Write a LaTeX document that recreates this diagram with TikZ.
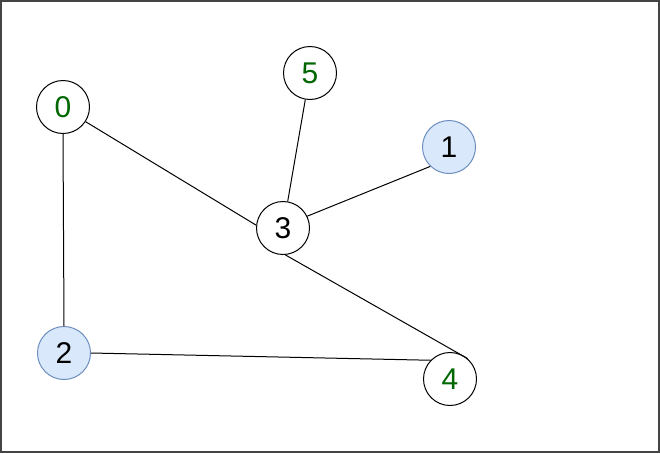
\documentclass[tikz,border=0pt]{standalone}
\usepackage{fontspec}
\setmainfont{Liberation Sans}
\definecolor{frame}{HTML}{444444}
\definecolor{blfill}{HTML}{DAE8FC}
\definecolor{bldraw}{HTML}{6C8EBF}
\definecolor{grn}{HTML}{006600}
\begin{document}
\begin{tikzpicture}[x=1pt,y=-1pt,
  vert/.style={circle,draw=black,fill=white,line width=1pt,minimum size=53pt,inner sep=0pt,font=\fontsize{30}{30}\selectfont},
  blue/.style={fill=blfill,draw=bldraw},
  gtext/.style={text=grn},
  edge/.style={line width=1pt}]
\useasboundingbox (0,0) rectangle (660,453);
\draw[frame,line width=2pt] (1,1) rectangle (659,452);
\node[vert,gtext] (n0) at (63,107) {0};
\node[vert,gtext] (n5) at (310,73) {5};
\node[vert,blue] (n1) at (449,147) {1};
\node[vert] (n3) at (283,228) {3};
\node[vert,blue] (n2) at (64,353) {2};
\node[vert,gtext] (n4) at (450,379) {4};
\draw[edge] (n0.-33) -- (n3.174);
\draw[edge] (n5.-100) -- (n3.80);
\draw[edge] (n1.-134) -- (n3.26);
\draw[edge] (n3.-85) -- (n4.49);
\draw[edge] (n0.south) -- (n2.north);
\draw[edge] (n2.east) -- (n4.136);
\end{tikzpicture}
\end{document}
